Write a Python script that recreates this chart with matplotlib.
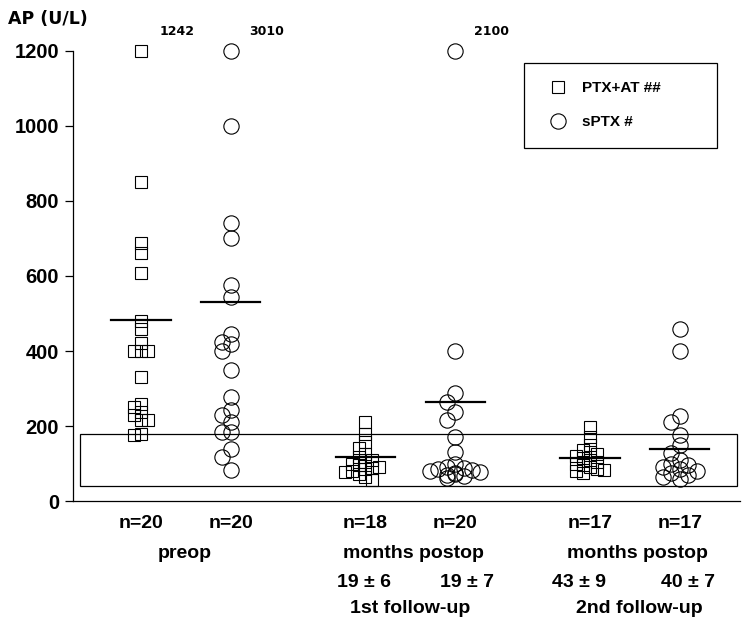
import numpy as np
import matplotlib.pyplot as plt
from matplotlib.lines import Line2D
from matplotlib.patches import Rectangle

plt.rcParams['font.family'] = ['Liberation Sans', 'DejaVu Sans']
plt.rcParams['font.weight'] = 'bold'

# AP values (U/L); values above 1200 are drawn at the top edge
ptx_at_preop = [1242, 851, 688, 661, 608, 480, 460, 421, 400, 400, 400, 331,
                260, 251, 238, 229, 216, 216, 180, 176]
sptx_preop = [3010, 1000, 740, 700, 576, 545, 445, 425, 420, 400, 349, 278,
              243, 229, 210, 185, 185, 140, 118, 83]
ptx_at_fu1 = [211, 180, 158, 141, 125, 118, 110, 105, 100, 95, 92, 88, 85, 80,
              78, 72, 65, 55]
sptx_fu1 = [2100, 400, 287, 265, 238, 216, 171, 131, 100, 92, 88, 85, 82, 80,
            78, 75, 72, 70, 68, 62]
ptx_at_fu2 = [198, 170, 150, 135, 130, 125, 120, 115, 110, 105, 100, 95, 90,
              85, 83, 80, 75]
sptx_fu2 = [460, 400, 228, 212, 175, 150, 128, 110, 100, 95, 90, 85, 80, 75,
            70, 65, 58]

groups = [ptx_at_preop, sptx_preop, ptx_at_fu1, sptx_fu1, ptx_at_fu2, sptx_fu2]
group_means = [484, 530, 117, 263, 114, 138]
group_n = ['n=20', 'n=20', 'n=18', 'n=20', 'n=17', 'n=17']
group_marker = ['s', 'o', 's', 'o', 's', 'o']
group_pos = [1, 2, 3.5, 4.5, 6, 7]
months = ['19 \u00b1 6', '19 \u00b1 7', '43 \u00b1 9', '40 \u00b1 7']
months_pos = [3.48, 4.63, 5.88, 7.09]
period_labels = ['preop', 'months postop', 'months postop']
period_pos = [1.49, 4.03, 6.53]
followup_labels = ['1st follow-up', '2nd follow-up']
followup_pos = [4.0, 6.55]
ref_low, ref_high = 40, 180
y_top = 1200

fig = plt.figure(figsize=(7.42, 6.18), dpi=100)
ax = fig.add_axes([0.0984, 0.1893, 0.8989, 0.7282])
ax.set_xlim(0.244, 7.67)
ax.set_ylim(0, y_top)


def dodge(values, x0, size_px):
    # spread overlapping markers sideways, allowing some overlap like the original
    pts = []
    order = np.argsort(values)[::-1]
    xs = np.zeros(len(values))
    step = 0.55 * size_px
    for i in order:
        y = min(values[i], y_top)
        best, best_hits = 0.0, None
        for k in [0, -1, 1, -2, 2, -3, 3]:
            xp, yp = ax.transData.transform((x0, y))
            xp += k * step
            hits = sum(1 for (a, b) in pts
                       if abs(a - xp) < step * 0.9 and abs(b - yp) < 0.6 * size_px)
            if hits == 0:
                best = k * step
                best_hits = 0
                break
            if best_hits is None or hits < best_hits:
                best, best_hits = k * step, hits
        xp, yp = ax.transData.transform((x0, y))
        pts.append((xp + best, yp))
        xs[i] = ax.transData.inverted().transform((xp + best, yp))[0]
    return xs


for vals, pos, mk, mean in zip(groups, group_pos, group_marker, group_means):
    vals = np.array(vals, dtype=float)
    ms = 9 if mk == 's' else 11
    xs = dodge(vals, pos, ms * 100 / 72)
    ys = np.minimum(vals, y_top)
    ax.plot(xs, ys, linestyle='none', marker=mk, ms=ms, mfc='none',
            mec='black', mew=0.8, clip_on=False, zorder=3)
    ax.plot([pos - 0.33, pos + 0.33], [mean, mean], color='black', lw=1.6,
            zorder=4)
    for v in vals[vals > y_top]:
        ax.annotate(f'{int(v)}', (pos, y_top), xytext=(26, 14),
                    textcoords='offset points', ha='center', va='center',
                    fontsize=9, family='DejaVu Sans', fontweight='bold')

ax.add_patch(Rectangle((0.32, ref_low), 7.64 - 0.32, ref_high - ref_low,
                       fill=False, edgecolor='black', lw=0.9, zorder=2,
                       clip_on=False))

ax.spines['top'].set_visible(False)
ax.spines['right'].set_visible(False)
ax.spines['left'].set_linewidth(0.9)
ax.spines['bottom'].set_linewidth(0.9)
ax.set_yticks(np.arange(0, 1201, 200))
ax.tick_params(axis='y', length=6, width=0.9, labelsize=14.5, pad=4)
ax.set_xticks([])

tr = ax.get_xaxis_transform()
for p, t in zip(group_pos, group_n):
    ax.text(p, -0.049, t, transform=tr, ha='center', va='center', fontsize=14)
for p, t in zip(period_pos, period_labels):
    ax.text(p, -0.116, t, transform=tr, ha='center', va='center', fontsize=14)
for p, t in zip(months_pos, months):
    ax.text(p, -0.18, t, transform=tr, ha='center', va='center', fontsize=14)
for p, t in zip(followup_pos, followup_labels):
    ax.text(p, -0.238, t, transform=tr, ha='center', va='center', fontsize=14)

fig.text(0.0108, 0.969, 'AP (U/L)', ha='left', va='center', fontsize=12.5,
         family='DejaVu Sans', fontweight='bold')

handles = [Line2D([], [], linestyle='none', marker='s', ms=9, mfc='none',
                  mec='black', mew=0.8),
           Line2D([], [], linestyle='none', marker='o', ms=11, mfc='none',
                  mec='black', mew=0.8)]
leg = ax.legend(handles, ['PTX+AT ##', 'sPTX #'], loc='upper left',
                bbox_to_anchor=(0.6762, 0.5, 0.2894, 0.4733), mode='expand',
                borderaxespad=0, fancybox=False, framealpha=1,
                edgecolor='black', fontsize=11, borderpad=1.2,
                labelspacing=1.3, handletextpad=0.6)
leg.get_frame().set_linewidth(0.9)

fig.savefig('out.png', dpi=100)
